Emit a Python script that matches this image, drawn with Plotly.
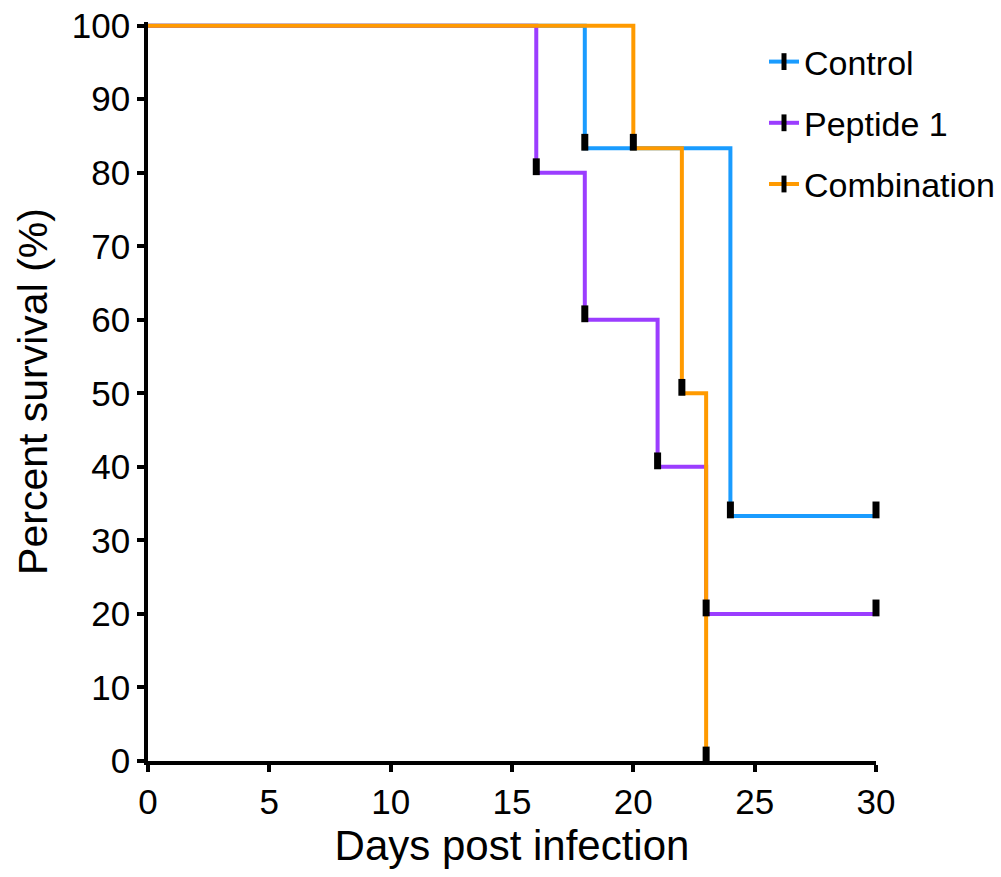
import plotly.graph_objects as go

# ---- data ----
control_days = [0, 18, 24, 30]
control_surv = [100, 83.33, 33.33, 33.33]
peptide_days = [0, 16, 18, 21, 23, 30]
peptide_surv = [100, 80, 60, 40, 20, 20]
combo_days = [0, 20, 22, 23]
combo_surv = [100, 83.33, 50, 0]

series_names = ["Control", "Peptide 1", "Combination"]
series_colors = ["#1a9cff", "#9b3dff", "#ff9a00"]
x_ticks = [0, 5, 10, 15, 20, 25, 30]
y_ticks = [0, 10, 20, 30, 40, 50, 60, 70, 80, 90, 100]

FONT = "Liberation Sans, Arial, sans-serif"
W, H = 1001, 877
ML, MR, MT, MB = 148, 125, 22, 116
Y_RANGE = [0, 100.5]
plot_w = W - ML - MR
plot_h = H - MT - MB
px_per_unit = plot_h / (Y_RANGE[1] - Y_RANGE[0])
mark_shift = 6 / px_per_unit  # marks sit just above the line

fig = go.Figure()
series = [(control_days, control_surv), (peptide_days, peptide_surv), (combo_days, combo_surv)]
for (d, s), name, col in zip(series, series_names, series_colors):
    fig.add_trace(go.Scatter(x=d, y=s, mode="lines", line=dict(color=col, width=4, shape="hv"),
                             showlegend=False, xaxis="x", yaxis="y", hoverinfo="skip"))
    fig.add_trace(go.Scatter(x=d[1:], y=s[1:], mode="markers",
                             marker=dict(symbol="line-ns", size=12, color="black",
                                         line=dict(color="black", width=7)),
                             cliponaxis=False, showlegend=False, xaxis="x", yaxis="y2"))
# legend entries
for name, col in zip(series_names, series_colors):
    fig.add_trace(go.Scatter(x=[None], y=[None], mode="lines+markers", name=name,
                             line=dict(color=col, width=4),
                             marker=dict(symbol="line-ns", size=12, color="black",
                                         line=dict(color="black", width=7)),
                             legendgroup=name))

axis_common = dict(showgrid=False, zeroline=False, showline=True, linecolor="black", linewidth=3.5,
                   ticks="outside", ticklen=7, tickwidth=3.5, tickcolor="black", automargin=False,
                   ticklabeloverflow="allow",
                   tickfont=dict(family=FONT, size=35, color="black"))
fig.update_layout(
    width=W, height=H,
    margin=dict(l=ML, r=MR, t=MT, b=MB, autoexpand=False),
    plot_bgcolor="white", paper_bgcolor="white",
    font=dict(family=FONT, color="black"),
    xaxis=dict(range=[0, 30], tickvals=x_ticks, **axis_common,
               title=dict(text="Days post infection", font=dict(family=FONT, size=42), standoff=12)),
    yaxis=dict(range=Y_RANGE, tickvals=y_ticks, **axis_common,
               title=dict(text="Percent survival (%)", font=dict(family=FONT, size=41), standoff=12)),
    yaxis2=dict(range=[Y_RANGE[0] - mark_shift, Y_RANGE[1] - mark_shift], overlaying="y",
                visible=False, showgrid=False, zeroline=False),
    legend=dict(x=(764 - ML) / plot_w, y=(H - MB - 33) / plot_h, xanchor="left", yanchor="top",
                font=dict(family=FONT, size=34, color="black"), tracegroupgap=14,
                bgcolor="rgba(0,0,0,0)"),
)
fig.write_html("out.html", config={"displayModeBar": False},
               post_script="document.body.style.margin='0';document.body.style.overflow='hidden';")
